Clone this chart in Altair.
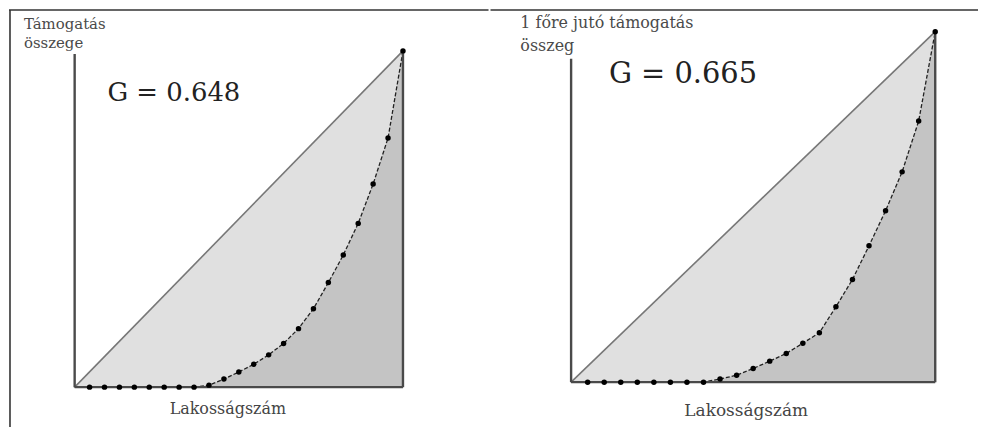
import altair as alt
import pandas as pd

# Rank of the municipality group (population quantiles), 0 = origin
rank = [0, 1, 2, 3, 4, 5, 6, 7, 8, 9, 10, 11, 12, 13, 14, 15, 16, 17, 18, 19, 20, 21, 22]

# Cumulative share of support (left panel: total support)
left_share = [0, 0, 0, 0, 0, 0, 0, 0, 0, 0.006, 0.024, 0.045, 0.068, 0.096, 0.130,
              0.174, 0.233, 0.311, 0.393, 0.487, 0.604, 0.741, 1.0]
# Cumulative share of support (right panel: per-capita support)
right_share = [0, 0, 0, 0, 0, 0, 0, 0, 0, 0.009, 0.020, 0.039, 0.060, 0.082, 0.111,
               0.141, 0.215, 0.293, 0.389, 0.489, 0.600, 0.745, 1.0]

left_title = ["Támogatás", "összege"]
right_title = ["1 főre jutó támogatás", "összeg"]
left_gini = "G = 0.648"
right_gini = "G = 0.665"
x_label = "Lakosságszám"

SERIF = "DejaVu Serif"
FRAME = "#333333"


def text_layer(label, x, y, size, color, align="left"):
    return alt.Chart(pd.DataFrame({"label": [label]})).mark_text(
        font=SERIF, fontSize=size, color=color, align=align, baseline="alphabetic"
    ).encode(text="label:N", x=alt.value(x), y=alt.value(y))


def hline(x1, x2):
    return alt.Chart(pd.DataFrame({"k": [0]})).mark_rule(color=FRAME, strokeWidth=1.6).encode(
        x=alt.value(x1), x2=alt.value(x2), y=alt.value(1))


def vline(y1, y2):
    return alt.Chart(pd.DataFrame({"k": [0]})).mark_rule(color=FRAME, strokeWidth=1.6).encode(
        y=alt.value(y1), y2=alt.value(y2), x=alt.value(1))


def panel(share, xdom, ydom, width, height, axis_top, texts):
    xs = alt.Scale(domain=xdom, nice=False, zero=False)
    ys = alt.Scale(domain=ydom, nice=False, zero=False)
    n = rank[-1]
    curve = pd.DataFrame({"r": rank, "s": share})
    dots = curve[curve["r"] > 0]
    diag = pd.DataFrame({"r": [0, n], "s": [0, 1]})
    frame = pd.DataFrame({
        "r": [0, 0, n], "s": [0, 0, 0],
        "r2": [0, n, n], "s2": [axis_top, 0, 1],
    })
    X = alt.X("r:Q", scale=xs, axis=None)
    Y = alt.Y("s:Q", scale=ys, axis=None)

    light = alt.Chart(diag).mark_area(color="#e0e0e0", opacity=1).encode(
        x=X, y=Y, y2=alt.datum(0))
    dark = alt.Chart(curve).mark_area(color="#c4c4c4", opacity=1).encode(
        x=X, y=Y, y2=alt.datum(0))
    diag_line = alt.Chart(diag).mark_line(color="#777777", strokeWidth=1.6).encode(x=X, y=Y)
    rules = alt.Chart(frame).mark_rule(color="#4a4a4a", strokeWidth=2.4).encode(
        x=X, y=Y, x2="r2:Q", y2="s2:Q")
    curve_line = alt.Chart(curve).mark_line(color="#222222", strokeWidth=1.3,
                                            strokeDash=[4, 2]).encode(x=X, y=Y)
    pts = alt.Chart(dots).mark_circle(color="#000000", size=30, opacity=1).encode(x=X, y=Y)

    layers = [light, dark, diag_line, curve_line, rules, pts] + texts
    return alt.layer(*layers).properties(width=width, height=height)


left_texts = [
    text_layer(left_title[0], 15, 20, 15, "#4a4a4a"),
    text_layer(left_title[1], 15, 39, 15, "#4a4a4a"),
    text_layer(left_gini, 99, 92, 26, "#222222"),
    text_layer(x_label, 220, 407, 16, "#444444", align="center"),
    hline(0, 482),
    vline(1, 420),
]
right_texts = [
    text_layer(right_title[0], 29, 19, 16, "#4a4a4a"),
    text_layer(right_title[1], 29, 42, 16, "#4a4a4a"),
    text_layer(right_gini, 118, 74, 29, "#222222"),
    text_layer(x_label, 256, 409, 17, "#444444", align="center"),
    hline(-1, 489),
]

left = panel(left_share, [-4.4, 27.733], [-0.1183, 1.1243], 482, 420, 0.991, left_texts)
right = panel(right_share, [-4.809, 24.585], [-0.1277, 1.0644], 489, 420, 0.9225, right_texts)

chart = alt.hconcat(left, right, spacing=0).properties(padding=0).configure_view(stroke=None)

chart.save("out.html", embed_options={"renderer": "svg", "actions": False})
